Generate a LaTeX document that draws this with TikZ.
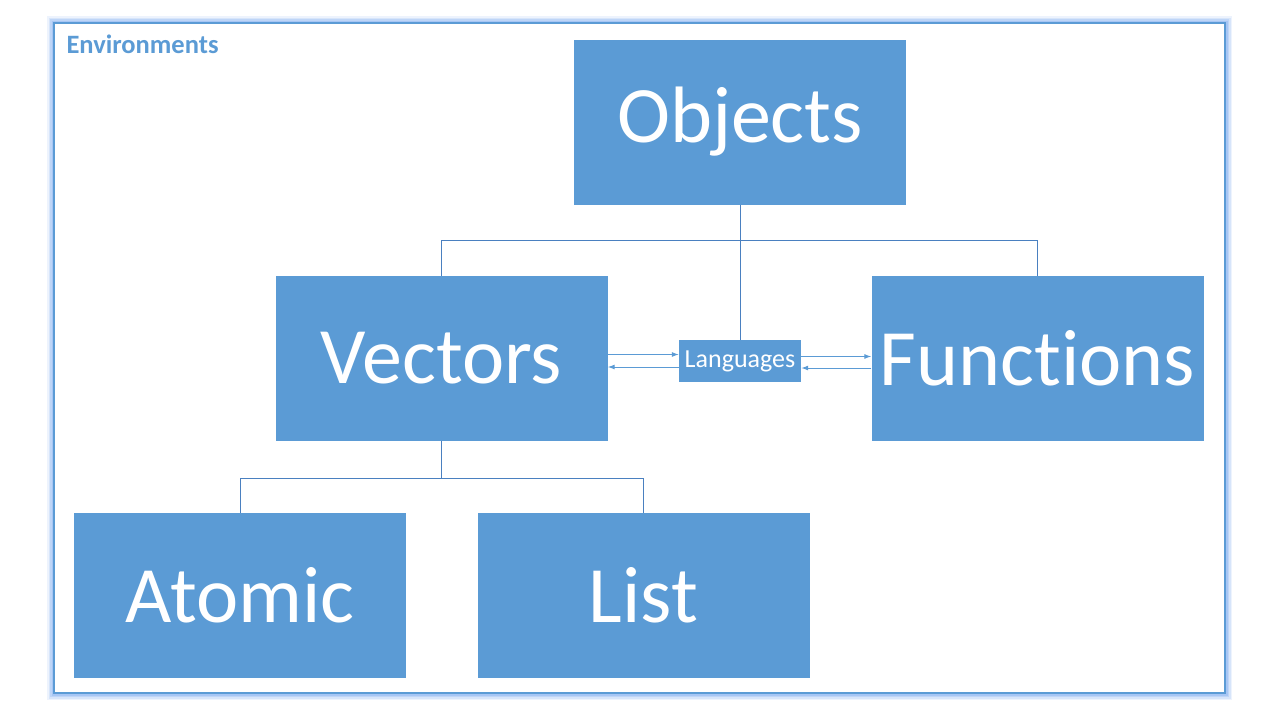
\documentclass[tikz,border=0pt]{standalone}
\usepackage{fontspec}
\setmainfont{Carlito}[Ligatures={NoCommon}]
\usetikzlibrary{arrows.meta}
\definecolor{boxblue}{HTML}{5B9BD5}
\definecolor{linkblue}{HTML}{4A80C0}
\definecolor{glowblue}{HTML}{8CB4F2}
\tikzset{
  bigbox/.style={draw=none, fill=boxblue, text=white, minimum width=332pt, minimum height=165pt, inner sep=0pt, font=\fontsize{80}{90}\selectfont},
  smallbox/.style={draw=none, fill=boxblue, text=white, minimum width=122pt, minimum height=42pt, inner sep=0pt, font=\fontsize{26}{30}\selectfont},
  tree/.style={draw=linkblue, line width=1pt},
  link/.style={draw=boxblue, line width=1pt, -{Latex[length=7pt,width=5pt]}},
}
\begin{document}
\begin{tikzpicture}[x=1pt,y=-1pt]
\useasboundingbox (0,0) rectangle (1280,720);
\fill[white] (0,0) rectangle (1280,720);
% frame with outer glow
\foreach \w/\o in {7/0.15, 5.5/0.22, 4/0.32, 2.5/0.45}{
  \draw[glowblue, line width=\w pt, opacity=\o] (54-\w/2,23-\w/2) rectangle (1225+\w/2,693+\w/2);
}
\fill[white] (54,23) rectangle (1225,693);
\draw[boxblue, line width=2pt] (54,23) rectangle (1225,693);
\node[anchor=west, text=boxblue, font=\fontsize{26.5}{30}\selectfont\bfseries] (env) at (63,44) {Environments};
% boxes
\node[bigbox] (obj) at (740,122) {Objects};
\node[bigbox] (vec) at (441.5,358.5) {Vectors};
\node[bigbox] (fun) at (1037.5,358.5) {Functions};
\node[bigbox] (atom) at (240,595.5) {Atomic};
\node[bigbox] (list) at (643.5,595.5) {List};
\node[smallbox] (lang) at (740,361) {Languages};
% tree
\coordinate (j1) at (740,240);
\coordinate (j2) at (441.5,478);
\draw[tree] (obj.south) -- (j1);
\draw[tree] (vec.north) -- (vec.north |- j1) -- (fun.north |- j1) -- (fun.north);
\draw[tree] (j1) -- (lang.north);
\draw[tree] (vec.south) -- (j2);
\draw[tree] (atom.north) -- (atom.north |- j2) -- (list.north |- j2) -- (list.north);
% arrows
\draw[link] ([yshift=6.5pt]lang.west -| vec.east) -- ([yshift=6.5pt]lang.west);
\draw[link] ([yshift=-6pt]lang.west) -- ([yshift=-6pt]lang.west -| vec.east);
\draw[link] ([yshift=4.5pt]lang.east) -- ([yshift=4.5pt]lang.east -| fun.west);
\draw[link] ([yshift=-7pt]lang.east -| fun.west) -- ([yshift=-7pt]lang.east);
\end{tikzpicture}
\end{document}
